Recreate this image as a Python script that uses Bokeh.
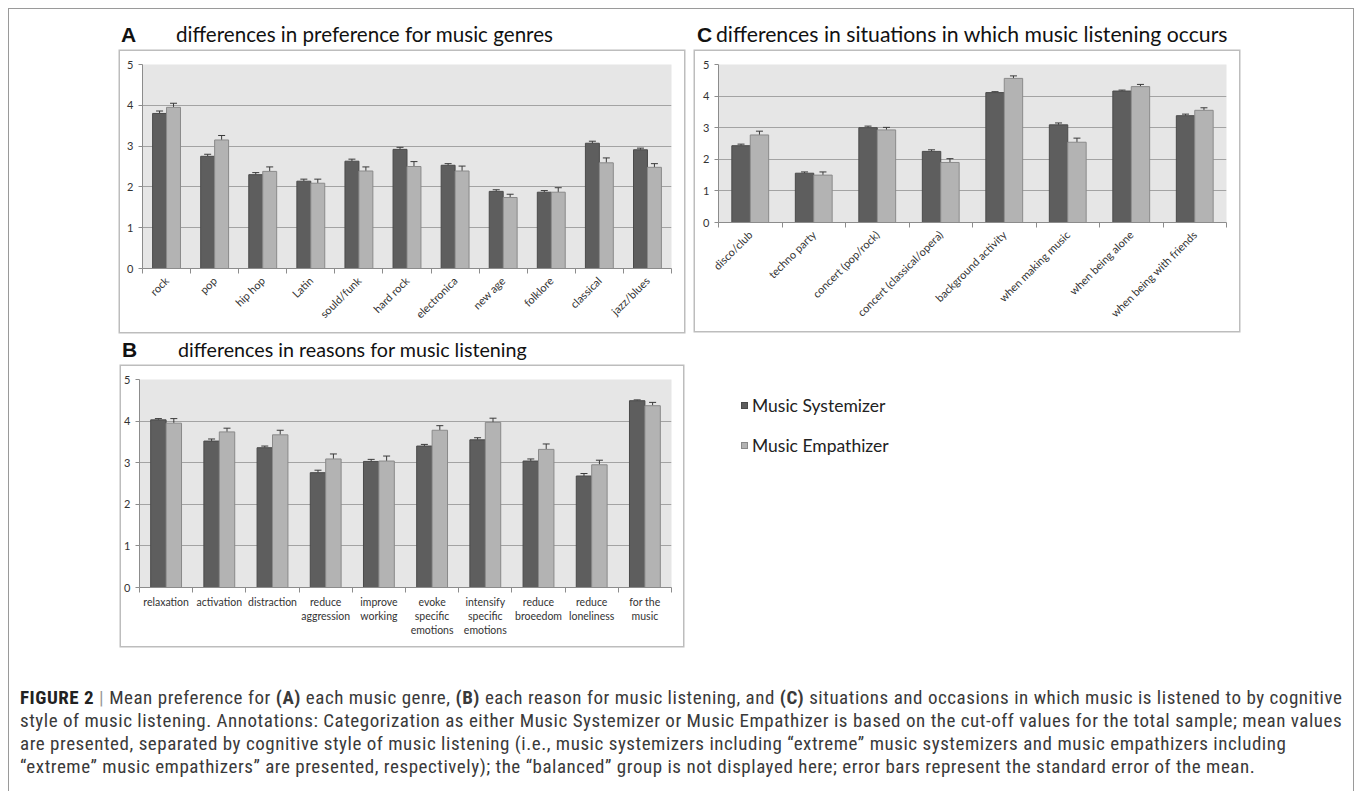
import math
from bokeh.plotting import figure
from bokeh.models import ColumnDataSource, FixedTicker, Whisker, TeeHead, Div, Spacer, Range1d
from bokeh.layouts import column, row
from bokeh.embed import file_html
from bokeh.resources import INLINE

# ---------------- data ----------------
genres = ["rock", "pop", "hip hop", "Latin", "sould/funk", "hard rock", "electronica",
          "new age", "folklore", "classical", "jazz/blues"]
genre_sys = [3.80, 2.75, 2.30, 2.14, 2.63, 2.92, 2.53, 1.89, 1.87, 3.07, 2.91]
genre_emp = [3.95, 3.15, 2.38, 2.09, 2.39, 2.50, 2.39, 1.74, 1.87, 2.59, 2.48]
genre_sys_se = [0.06, 0.05, 0.05, 0.05, 0.05, 0.05, 0.04, 0.04, 0.04, 0.05, 0.04]
genre_emp_se = [0.10, 0.11, 0.11, 0.10, 0.10, 0.12, 0.12, 0.08, 0.11, 0.12, 0.09]

reasons = ["relaxation", "activation", "distraction", "reduce\naggression", "improve\nworking",
           "evoke\nspecific\nemotions", "intensify\nspecific\nemotions", "reduce\nbroeedom",
           "reduce\nloneliness", "for the\nmusic"]
reason_sys = [4.03, 3.52, 3.36, 2.76, 3.03, 3.40, 3.55, 3.04, 2.68, 4.49]
reason_emp = [3.95, 3.74, 3.67, 3.09, 3.04, 3.78, 3.97, 3.32, 2.95, 4.37]
reason_sys_se = [0.03, 0.05, 0.04, 0.06, 0.05, 0.04, 0.05, 0.05, 0.06, 0.02]
reason_emp_se = [0.11, 0.09, 0.11, 0.12, 0.12, 0.11, 0.10, 0.13, 0.11, 0.08]

situations = ["disco/club", "techno party", "concert (pop/rock)", "concert (classical/opera)",
              "background activity", "when making music", "when being alone",
              "when being with friends"]
sit_sys = [2.43, 1.56, 3.00, 2.25, 4.11, 3.09, 4.16, 3.38]
sit_emp = [2.77, 1.50, 2.93, 1.90, 4.56, 2.54, 4.30, 3.55]
sit_sys_se = [0.05, 0.04, 0.05, 0.05, 0.03, 0.06, 0.03, 0.05]
sit_emp_se = [0.12, 0.10, 0.08, 0.12, 0.08, 0.13, 0.07, 0.08]

y_ticks = [0, 1, 2, 3, 4, 5]
series_names = ["Music Systemizer", "Music Empathizer"]

# ---------------- style ----------------
DARK = "#5e5e5e"
DARK_LINE = "#4a4a4a"
LIGHT = "#b3b3b3"
LIGHT_LINE = "#8a8a8a"
ERR = "#3a3a3a"
BG = "#e6e6e6"
GRID = "#a3a3a3"
AXIS = "#8c8c8c"
BOX = "#bdbdbd"
FONT = "Lato"


def make_panel(cats, sys_v, emp_v, sys_se, emp_se, w, h, bl, br, bt, bb, rotate):
    n = len(cats)
    idx = list(range(n))
    bw = 0.29
    source = ColumnDataSource(dict(
        xs=[i - bw / 2 for i in idx], xe=[i + bw / 2 for i in idx],
        sys=sys_v, emp=emp_v,
        sys_up=[v + e for v, e in zip(sys_v, sys_se)],
        emp_up=[v + e for v, e in zip(emp_v, emp_se)],
    ))
    p = figure(width=w, height=h, x_range=Range1d(-0.5, n - 0.5), y_range=Range1d(0, 5),
               output_backend="svg", toolbar_location=None,
               min_border_left=bl, min_border_right=br, min_border_top=bt, min_border_bottom=bb,
               styles={"box-shadow": f"0 0 0 1.5px {BOX}"})
    p.background_fill_color = BG
    p.border_fill_color = "white"
    p.outline_line_color = None
    p.vbar(x="xs", top="sys", bottom=0, width=bw, source=source, fill_color=DARK,
           line_color=DARK_LINE, line_width=1, legend_label=series_names[0])
    p.vbar(x="xe", top="emp", bottom=0, width=bw, source=source, fill_color=LIGHT,
           line_color=LIGHT_LINE, line_width=1, legend_label=series_names[1])
    p.legend.visible = False
    for base, lo, up in (("xs", "sys", "sys_up"), ("xe", "emp", "emp_up")):
        wk = Whisker(base=base, lower=lo, upper=up, source=source, line_color=ERR,
                     line_width=1, upper_head=TeeHead(size=7, line_color=ERR, line_width=1),
                     lower_head=None)
        p.add_layout(wk)
    xa = p.xaxis[0]
    xa.ticker = FixedTicker(ticks=idx, minor_ticks=[i - 0.5 for i in range(n + 1)])
    xa.major_label_overrides = {i: c for i, c in zip(idx, cats)}
    xa.major_tick_line_color = None
    xa.minor_tick_line_color = AXIS
    xa.minor_tick_in = 0
    xa.minor_tick_out = 5
    xa.axis_line_color = AXIS
    xa.major_label_text_font = FONT
    xa.major_label_text_font_size = "11px" if rotate else "10.5px"
    xa.major_label_text_color = "#333333"
    xa.major_label_standoff = 4 if rotate else 2
    if rotate:
        xa.major_label_orientation = math.pi / 4
    ya = p.yaxis[0]
    ya.ticker = FixedTicker(ticks=y_ticks, minor_ticks=[])
    ya.major_tick_in = 0
    ya.major_tick_out = 4
    ya.major_tick_line_color = AXIS
    ya.minor_tick_line_color = None
    ya.axis_line_color = AXIS
    ya.major_label_text_font = FONT
    ya.major_label_text_font_size = "11px"
    ya.major_label_text_color = "#333333"
    ya.major_label_standoff = 5
    p.xgrid.visible = False
    p.ygrid.ticker = FixedTicker(ticks=y_ticks)
    p.ygrid.grid_line_color = GRID
    p.ygrid.grid_line_width = 1
    return p


def title_div(letter, text, w, h, letter_left, text_left, top, size):
    html = (
        f'<div style="position:relative;width:{w}px;height:{h}px;">'
        f'<span style="position:absolute;left:{letter_left}px;top:{top}px;line-height:21px;'
        f'font-family:\'Liberation Sans\',Arial,sans-serif;font-weight:bold;font-size:21px;color:#111;">{letter}</span>'
        f'<span style="position:absolute;left:{text_left}px;top:{top}px;line-height:21px;white-space:nowrap;'
        f'font-family:Lato,sans-serif;font-size:{size}px;color:#111;">{text}</span>'
        '</div>'
    )
    return Div(text=html, width=w, height=h, margin=0)


pA = make_panel(genres, genre_sys, genre_emp, genre_sys_se, genre_emp_se,
                564, 281, 22, 13, 13, 64, True)
pC = make_panel(situations, sit_sys, sit_emp, sit_sys_se, sit_emp_se,
                544, 280, 23, 13, 13, 109, True)
pB = make_panel(reasons, reason_sys, reason_emp, reason_sys_se, reason_emp_se,
                562, 280, 18, 12, 13, 59, False)

tA = title_div("A", "differences in preference for music genres", 564, 43, 1, 56, 16, 20.6)
tC = title_div("C", "differences in situations in which music listening occurs", 544, 43, 2, 21, 16, 21.2)
tB = title_div("B", "differences in reasons for music listening", 562, 34, 1, 57, 7, 19.7)

legend_html = (
    '<div style="position:relative;width:300px;height:314px;font-family:Lato,sans-serif;'
    'font-size:17.5px;color:#222;">'
    f'<span style="position:absolute;left:58px;top:70px;width:7px;height:7px;background:{DARK};'
    f'border:1px solid {DARK_LINE};"></span>'
    f'<span style="position:absolute;left:69px;top:64px;line-height:20px;white-space:nowrap;">{series_names[0]}</span>'
    f'<span style="position:absolute;left:58px;top:110px;width:7px;height:7px;background:{LIGHT};'
    f'border:1px solid {LIGHT_LINE};"></span>'
    f'<span style="position:absolute;left:69px;top:104px;line-height:20px;white-space:nowrap;">{series_names[1]}</span>'
    '</div>'
)
legend_div = Div(text=legend_html, width=300, height=314, margin=0)

caption_html = (
    '<div style="position:relative;width:1344px;height:145px;">'
    '<div style="position:absolute;left:12px;top:40px;line-height:23px;white-space:nowrap;'
    'font-family:\'Liberation Sans Narrow\',\'Roboto Condensed\',\'Liberation Sans\',sans-serif;'
    'font-stretch:condensed;font-size:19px;letter-spacing:0.53px;color:#3a3a3a;">'
    '<b style="color:#222">FIGURE 2</b> <span style="color:#999">|</span> Mean preference for <b>(A)</b> each music genre, <b>(B)</b> each reason for music listening, and '
    '<b>(C)</b> situations and occasions in which music is listened to by cognitive<br>'
    'style of music listening. Annotations: Categorization as either Music Systemizer or Music '
    'Empathizer is based on the cut-off values for the total sample; mean values<br>'
    'are presented, separated by cognitive style of music listening (i.e., music systemizers '
    'including \u201cextreme\u201d music systemizers and music empathizers including<br>'
    '\u201cextreme\u201d music empathizers\u201d are presented, respectively); the \u201cbalanced\u201d '
    'group is not displayed here; error bars represent the standard error of the mean.'
    '</div></div>'
)
caption = Div(text=caption_html, width=1346, height=145, margin=0)

row1 = row(Spacer(width=112, height=324), column(tA, pA, spacing=0),
           Spacer(width=11, height=324), column(tC, pC, spacing=0), spacing=0)
row2 = row(Spacer(width=113, height=314), column(tB, pB, spacing=0), legend_div, spacing=0)

layout = column(row1, row2, caption, spacing=0, margin=(8, 0, 0, 8),
                styles={"box-shadow": "inset 1px 1px 0 #9a9a9a, inset -1px 0 0 #9a9a9a"})

with open("out.html", "w") as f:
    f.write(file_html(layout, INLINE))
